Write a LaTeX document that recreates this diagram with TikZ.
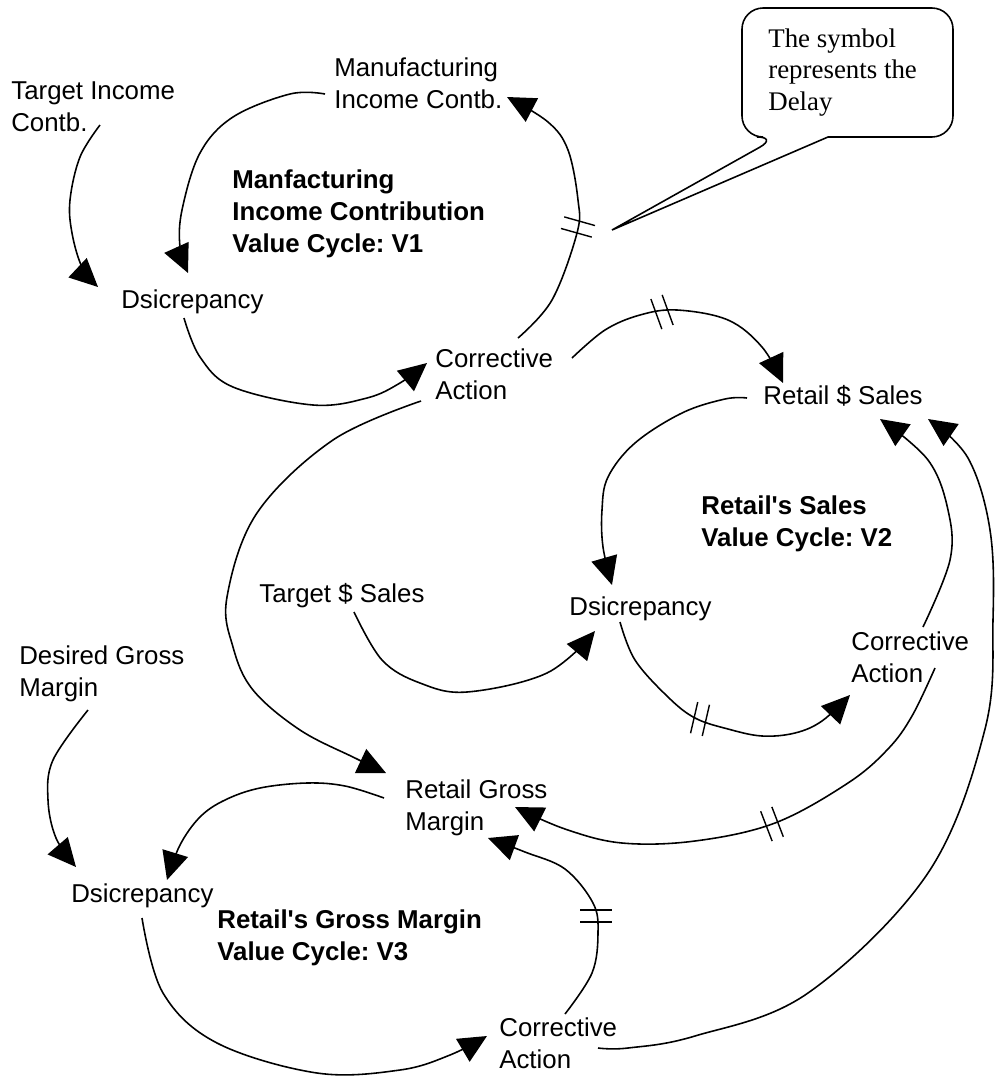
\documentclass[tikz,border=0pt]{standalone}
\usepackage{fontspec}
\setmainfont{Liberation Sans}[Ligatures=TeXOff]
\newfontfamily\notefont{Liberation Serif}
\usetikzlibrary{arrows.meta, calc}
% two short strokes across a link: centre, angle
\newcommand{\delaymark}[2]{%
  \draw[line width=0.8pt] ($(#1)+({#2+90}:6)+(#2:-16)$) -- +(#2:32);
  \draw[line width=0.8pt] ($(#1)+({#2-90}:6)+(#2:-16)$) -- +(#2:32);}

\begin{document}
\frenchspacing
\begin{tikzpicture}[x=0.02cm, y=-0.02cm,
    var/.style={anchor=base west, inner sep=0pt, align=left, font=\fontsize{14.7}{18.1}\selectfont},
    cycletitle/.style={var, font=\fontsize{14.7}{18.1}\selectfont\bfseries},
    notetext/.style={anchor=base west, inner sep=0pt, align=left, font=\notefont\fontsize{15.3}{17.9}\selectfont},
    link/.style={line width=0.9pt, -{Triangle[length=16pt,width=15pt]}},
    bubble/.style={line width=0.9pt}]
    \useasboundingbox (0,0) rectangle (995,1076);

    % Cycle V1 (nodes sit on their last baseline)
    \node[var] (tic) at (11,131) {Target Income\\Contb.};
    \node[var] (mic) at (334,108) {Manufacturing\\Income Contb.};
    \node[var] (dis1) at (121,308) {Dsicrepancy};
    \node[var] (ca1) at (435,399) {Corrective\\Action};
    \node[cycletitle] (v1) at (232,252) {Manfacturing\\Income Contribution\\Value Cycle: V1};

    % Cycle V2
    \node[var] (rss) at (763,404) {Retail \$ Sales};
    \node[var] (tss) at (259,602) {Target \$ Sales};
    \node[var] (dis2) at (569,615) {Dsicrepancy};
    \node[var] (ca2) at (851,682) {Corrective\\Action};
    \node[cycletitle] (v2) at (701,546) {Retail's Sales\\Value Cycle: V2};

    % Cycle V3
    \node[var] (dgm) at (19,696) {Desired Gross\\Margin};
    \node[var] (rgm) at (405,830) {Retail Gross\\Margin};
    \node[var] (dis3) at (71,902) {Dsicrepancy};
    \node[var] (ca3) at (499,1068) {Corrective\\Action};
    \node[cycletitle] (v3) at (217,960) {Retail's Gross Margin\\Value Cycle: V3};

    % Links of V1
    \draw[link] plot[smooth, tension=0.6] coordinates {([shift={(89,-6)}]tic.base west) (80,157) (70,200) (72,233) (82,267) ([shift={(-23,-21)}]dis1.base west)};
    \draw[link] plot[smooth, tension=0.6] coordinates {([shift={(-9,-14)}]mic.base west) (290,94) (233,117) (200,153) (182,210) (180,247) ([shift={(67,-35)}]dis1.base west)};
    \draw[link] plot[smooth, tension=0.6] coordinates {([shift={(63,10)}]dis1.base west) (200,357) (233,387) (313,405) (367,398) (400,383) ([shift={(-8,-36)}]ca1.base west)};
    \draw[link] plot[smooth, tension=0.6] coordinates {([shift={(83,-61)}]ca1.base west) (552,300) (577,233) (578,200) (568,150) (548,122) ([shift={(173,-11)}]mic.base west)};
    \draw[link] plot[smooth, tension=0.6] coordinates {([shift={(137,-41)}]ca1.base west) (605,330) (640,315) (677,310) (728,320) (762,347) ([shift={(20,-21)}]rss.base west)};
    \draw[link] plot[smooth, tension=0.6] coordinates {([shift={(-14,2)}]ca1.base west) (333,440) (257,513) (227,597) (233,647) (253,690) (300,730) (355,758) ([shift={(-19,-57)}]rgm.base west)};

    % Links of V2
    \draw[link] plot[smooth, tension=0.6] coordinates {([shift={(-16,-6)}]rss.base west) (725,399) (682,413) (635,443) (608,477) (602,510) (603,547) ([shift={(43,-30)}]dis2.base west)};
    \draw[link] plot[smooth, tension=0.6] coordinates {([shift={(95,10)}]tss.base west) (382,660) (420,683) (467,692) (547,673) ([shift={(26,16)}]dis2.base west)};
    \draw[link] plot[smooth, tension=0.6] coordinates {([shift={(51,7)}]dis2.base west) (635,660) (668,697) (695,718) (728,729) (762,736) (795,733) (822,721) ([shift={(-1,13)}]ca2.base west)};
    \draw[link] plot[smooth, tension=0.6] coordinates {([shift={(72,-55)}]ca2.base west) (950,560) (948,510) (928,460) ([shift={(117,15)}]rss.base west)};
    \draw[link] plot[smooth, tension=0.6] coordinates {([shift={(84,-14)}]ca2.base west) (912,716) (888,749) (848,783) (775,823) (695,841) (622,843) (565,829) ([shift={(110,-23)}]rgm.base west)};

    % Links of V3
    \draw[link] plot[smooth, tension=0.6] coordinates {([shift={(-21,-32)}]rgm.base west) (345,786) (307,783) (260,788) (225,800) (200,817) (180,845) ([shift={(96,-22)}]dis3.base west)};
    \draw[link] plot[smooth, tension=0.6] coordinates {([shift={(69,14)}]dgm.base west) (53,760) (48,800) (56,838) ([shift={(5,-35)}]dis3.base west)};
    \draw[link] plot[smooth, tension=0.6] coordinates {([shift={(71,16)}]dis3.base west) (163,993) (217,1043) (317,1073) (400,1070) (450,1055) ([shift={(-12,-32)}]ca3.base west)};
    \draw[link] plot[smooth, tension=0.6] coordinates {([shift={(66,-54)}]ca3.base west) (592,973) (598,933) (593,903) (565,869) (525,852) ([shift={(83,8)}]rgm.base west)};
    \draw[link] plot[smooth, tension=0.6] coordinates {([shift={(99,-20)}]ca3.base west) (628,1048) (695,1036) (808,993) (928,873) (985,729) (993,620) (990,530) (968,458) ([shift={(165,15)}]rss.base west)};

    % Delays
    \delaymark{578,227}{15.7}
    \delaymark{662,312}{70}
    \delaymark{700,719}{103}
    \delaymark{772,824}{69}
    \delaymark{596,916}{0}

    % Callout
    \coordinate (delaytip) at (612,230);
    \draw[bubble] (828,137) [rounded corners=12pt] -- (953,137) -- (953,8) -- (742,8) -- (742,137) -- (778,137) [sharp corners] -- (delaytip) -- cycle;
    \node[notetext] (note) at (768,110) {The symbol\\represents the\\Delay};
\end{tikzpicture}
\end{document}
